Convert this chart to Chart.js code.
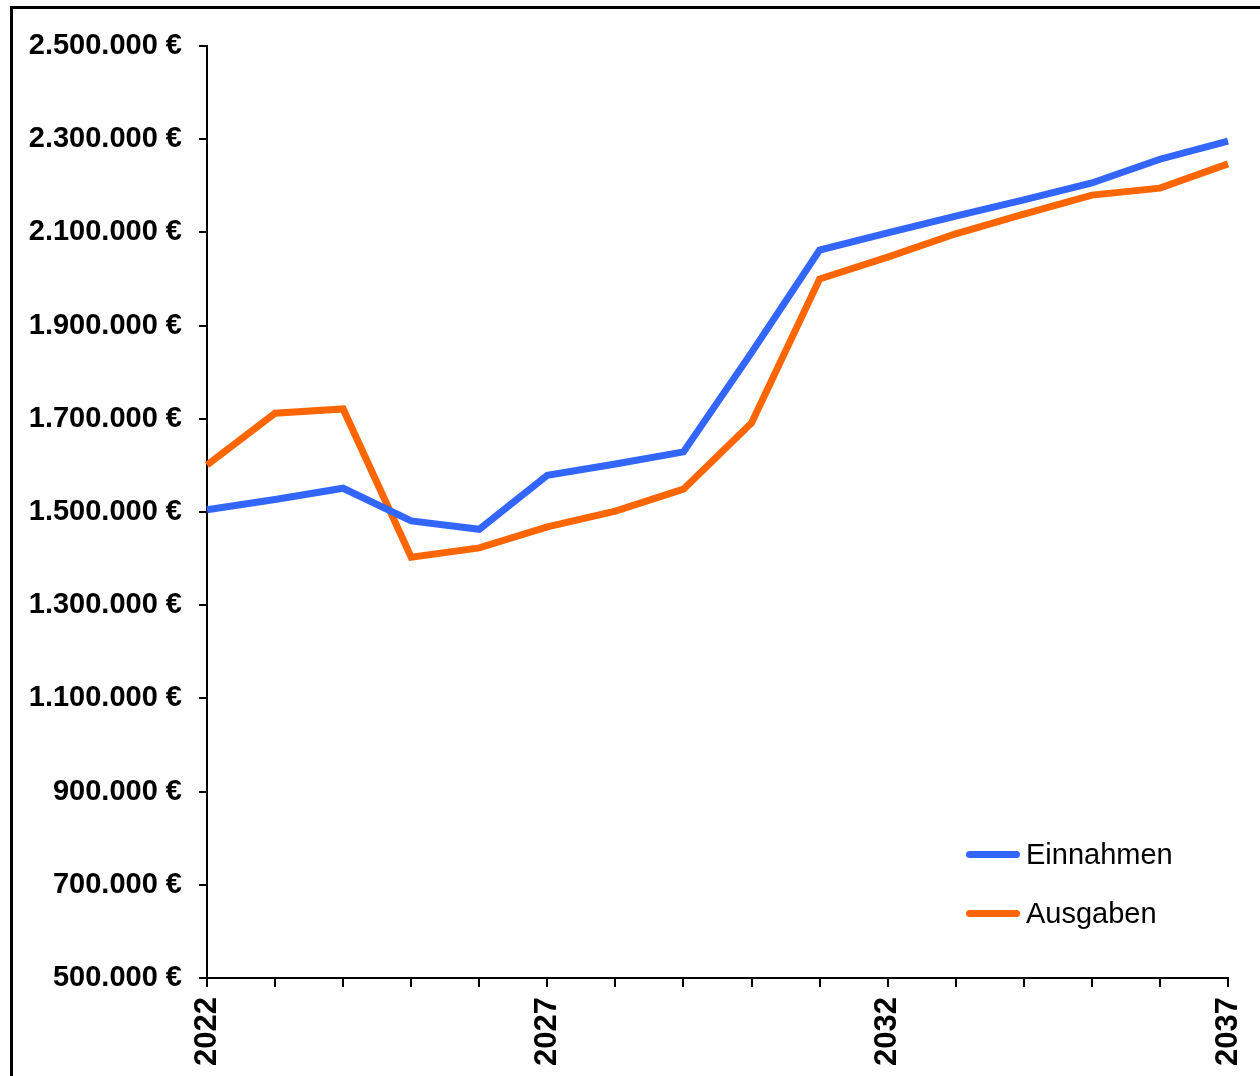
<!DOCTYPE html>
<html lang="de">
<head>
<meta charset="utf-8">
<title>Einnahmen und Ausgaben</title>
<script src="https://cdn.jsdelivr.net/npm/chart.js@4"></script>
<style>
    html, body { margin: 0; padding: 0; background: #fff; overflow: hidden; }
    #wrap { position: relative; width: 1260px; height: 1076px; }
    #frame { position: absolute; left: 10px; top: 6px; width: 1400px; height: 1200px; border: 3px solid #000; }
    #chart { position: absolute; left: 0; top: 0; }
    #legend { position: absolute; left: 966px; top: 836px; font-family: "Liberation Sans", Arial, sans-serif; font-size: 29px; color: #000; }
    .legend-item { display: flex; align-items: center; height: 36px; margin-bottom: 23px; }
    .legend-line { width: 54px; height: 7px; border-radius: 4px; margin-right: 6px; }
</style>
</head>
<body>
<div id="wrap">
    <div id="frame"></div>
    <canvas id="chart" width="1260" height="1076"></canvas>
    <div id="legend"></div>
</div>
<script>
// Data
const years = ['2022', '2023', '2024', '2025', '2026', '2027', '2028', '2029',
               '2030', '2031', '2032', '2033', '2034', '2035', '2036', '2037'];
const einnahmen = [1505000, 1527000, 1551000, 1481000, 1463000, 1579000, 1603000, 1629000,
                   1842000, 2062000, 2099000, 2135000, 2170000, 2206000, 2257000, 2296000];
const ausgaben = [1601000, 1712000, 1721000, 1403000, 1423000, 1468000, 1502000, 1549000,
                  1691000, 2000000, 2047000, 2097000, 2139000, 2180000, 2195000, 2247000];
const shownYears = ['2022', '2027', '2032', '2037'];

// Colors
const BLUE = '#3366FF';
const ORANGE = '#FF6600';
const FONT = '"Liberation Sans", Arial, sans-serif';

// Format numbers the German way, e.g. 2.500.000 €
function formatEuro(value) {
    return String(Math.round(value)).replace(/\B(?=(\d{3})+(?!\d))/g, '.') + ' €';
}

const ctx = document.getElementById('chart').getContext('2d');
const chart = new Chart(ctx, {
    type: 'line',
    data: {
        labels: years,
        datasets: [
            { label: 'Einnahmen', data: einnahmen, borderColor: BLUE, backgroundColor: BLUE },
            { label: 'Ausgaben', data: ausgaben, borderColor: ORANGE, backgroundColor: ORANGE }
        ].map(ds => ({
            ...ds,
            borderWidth: 7,
            pointRadius: 0,
            pointHoverRadius: 0,
            tension: 0,
            fill: false,
            borderJoinStyle: 'miter',
            borderCapStyle: 'butt'
        }))
    },
    options: {
        responsive: false,
        animation: false,
        devicePixelRatio: 1,
        layout: { padding: { top: 46, right: 32, left: 0, bottom: 0 } },
        plugins: {
            legend: { display: false },
            tooltip: { enabled: false }
        },
        scales: {
            x: {
                offset: false,
                afterFit: scale => {
                    scale.height = 98;
                    // the rotated end labels should not push the plot inwards
                    scale.paddingLeft = 0;
                    scale.paddingRight = 0;
                },
                border: { display: true, color: '#000', width: 2 },
                grid: { drawOnChartArea: false, drawTicks: true, tickLength: 9, color: '#000', lineWidth: 2 },
                ticks: {
                    autoSkip: false,
                    minRotation: 90,
                    maxRotation: 90,
                    padding: 10,
                    color: '#000',
                    font: { family: FONT, size: 31, weight: 'bold' },
                    callback: function (value) {
                        const label = this.getLabelForValue(value);
                        return shownYears.includes(label) ? label : '';
                    }
                }
            },
            y: {
                min: 500000,
                max: 2500000,
                afterFit: scale => { scale.width = 207; },
                border: { display: true, color: '#000', width: 2 },
                grid: { drawOnChartArea: false, drawTicks: true, tickLength: 8, color: '#000', lineWidth: 2 },
                ticks: {
                    stepSize: 200000,
                    padding: 17,
                    color: '#000',
                    font: { family: FONT, size: 29, weight: 'bold' },
                    callback: value => formatEuro(value)
                }
            }
        }
    }
});

// HTML legend built from the datasets
function buildLegend() {
    const legend = document.getElementById('legend');
    legend.innerHTML = chart.data.datasets.map(ds => `
        <div class="legend-item">
            <span class="legend-line" style="background:${ds.borderColor}"></span>
            <span>${ds.label}</span>
        </div>
    `).join('');
}

buildLegend();
</script>
</body>
</html>
